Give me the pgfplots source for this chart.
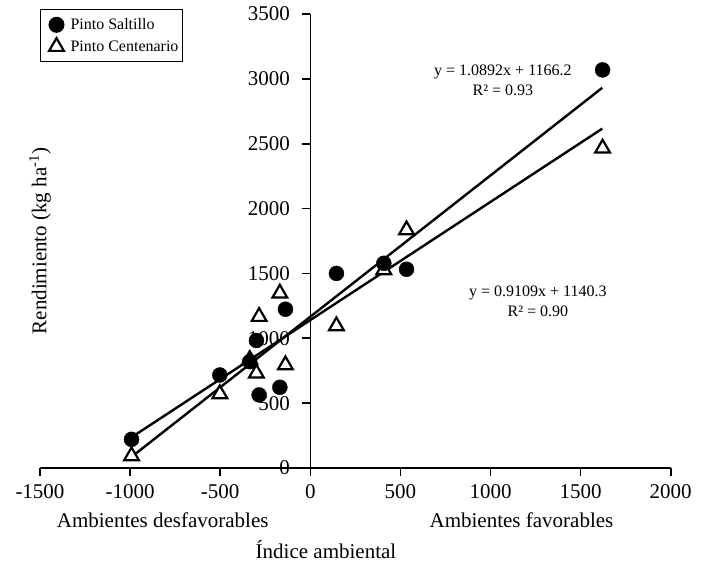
\documentclass[border=0pt]{standalone}
\usepackage{pgfplots}
\pgfplotsset{compat=1.18}
\usepackage{fontspec}
\setmainfont{Liberation Serif}
\begin{document}
\begin{tikzpicture}
\useasboundingbox (-40pt,-96pt) rectangle (664pt,468pt);
\begin{axis}[
  at={(0,0)}, anchor=south west,
  scale only axis, width=630.7pt, height=454pt,
  xmin=-1500, xmax=2000, ymin=0, ymax=3500,
  axis lines=middle,
  axis line style={-, line width=1.6pt},
  every tick/.style={line width=1.6pt, black},
  tick align=outside,
  major tick length=8pt,
  xtick={-1500,-1000,-500,0,500,1000,1500,2000},
  xticklabels={-1500,-1000,-500,0,500,1000,1500,2000},
  ytick={0,500,1000,1500,2000,2500,3000,3500},
  yticklabels={0,500,1000,1500,2000,2500,3000,3500},
  hide obscured x ticks=false,
  hide obscured y ticks=false,
  tick label style={font=\fontsize{21}{25}\selectfont},
  xticklabel style={yshift=-5pt},
  yticklabel style={xshift=-9pt},
  clip=false,
  legend style={draw=black, line width=1pt, font=\fontsize{16}{20}\selectfont,
    at={(0,1.011)}, anchor=north west, inner xsep=2pt, inner ysep=7pt,
    row sep=5pt, column sep=0pt},
  legend cell align=left,
  legend image code/.code={\path[draw=none,fill=none] (0pt,0pt) -- (26pt,0pt); \draw[#1] plot coordinates {(14pt,0pt)};},
]
\addplot[only marks, mark=triangle*, mark size=8.5pt, black,
  mark options={fill=white, line width=2.2pt}, forget plot] coordinates {
(-992,93) (-502,571) (-336,835) (-299,730) (-284,1167) (-169,1347)
(-138,794) (145,1095) (408,1527) (534,1835) (1622,2465)};
\addplot[only marks, mark=*, mark size=7.5pt, black] coordinates {
(-992,221) (-502,717) (-336,820) (-299,983) (-284,563) (-169,622)
(-138,1224) (145,1500) (408,1578) (534,1532) (1622,3069)};
\addlegendentry{Pinto Saltillo}
\addlegendimage{only marks, mark=triangle*, mark size=8.5pt, black, mark options={fill=white, line width=2.2pt}}
\addlegendentry{Pinto Centenario}
\addplot[black, line width=2.4pt, forget plot] coordinates {(-995,82.4) (1620,2930.7)};
\addplot[black, line width=2.4pt, forget plot] coordinates {(-995,234.0) (1620,2616.0)};
\node[align=center, font=\fontsize{16}{20}\selectfont] at (axis cs:1069,2991) {y = 1.0892x + 1166.2\\R² = 0.93};
\node[align=center, font=\fontsize{16}{20}\selectfont] at (axis cs:1263,1288) {y = 0.9109x + 1140.3\\R² = 0.90};
\node[font=\fontsize{21}{25}\selectfont] at (axis cs:-819,-401) {Ambientes desfavorables};
\node[font=\fontsize{21}{25}\selectfont] at (axis cs:1172,-401) {Ambientes favorables};
\node[font=\fontsize{21}{25}\selectfont] at (axis cs:87,-632) {Índice ambiental};
\node[font=\fontsize{21}{25}\selectfont, rotate=90] at (axis cs:-1500,1750) {Rendimiento (kg ha\textsuperscript{-1})};
\end{axis}
\end{tikzpicture}
\end{document}
